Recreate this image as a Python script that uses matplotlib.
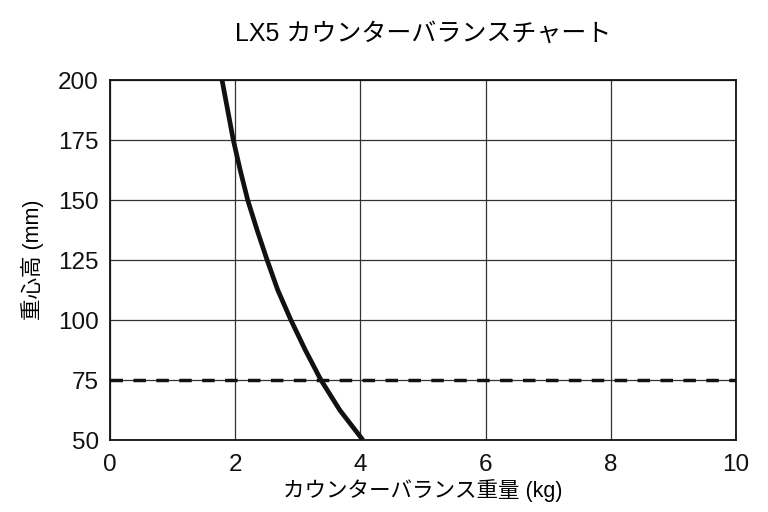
import matplotlib.pyplot as plt

plt.rcParams['font.family'] = ['Liberation Sans', 'Noto Sans CJK JP']

# 重心高 (mm) とカウンターバランス重量 (kg)
height_mm = [200, 187.5, 175, 162.5, 150, 137.5, 125, 112.5, 100, 87.5, 75, 62.5, 50]
weight_kg = [1.79, 1.88, 1.97, 2.08, 2.20, 2.35, 2.51, 2.68, 2.89, 3.12, 3.37, 3.67, 4.04]
ref_height = 75

x_ticks = [0, 2, 4, 6, 8, 10]
y_ticks = [50, 75, 100, 125, 150, 175, 200]

fig = plt.figure(figsize=(7.68, 5.12), dpi=100)
ax = fig.add_axes([0.1432, 0.1406, 0.8151, 0.7031])

ax.plot(weight_kg, height_mm, color='#111111', lw=3.4, solid_capstyle='butt',
        solid_joinstyle='round', zorder=3)
ax.axhline(ref_height, color='#111111', lw=2.5, ls=(0, (3.6, 3.0)), zorder=3)

ax.set_xlim(0, 10)
ax.set_ylim(50, 200)
ax.set_xticks(x_ticks)
ax.set_yticks(y_ticks)
ax.grid(True, color='#333333', lw=0.9)
ax.tick_params(length=0, labelsize=17.5, colors='#111111')
ax.tick_params(axis='x', pad=10)
ax.tick_params(axis='y', pad=8)
for s in ax.spines.values():
    s.set_linewidth(1.3)
    s.set_color('#111111')

ax.set_xlabel('カウンターバランス重量 (kg)', fontsize=15.5, labelpad=2)
ax.set_ylabel('重心高 (mm)', fontsize=15.5, labelpad=10)
ax.set_title('LX5 カウンターバランスチャート', fontsize=18, pad=28)

plt.savefig('out.png', dpi=100)
